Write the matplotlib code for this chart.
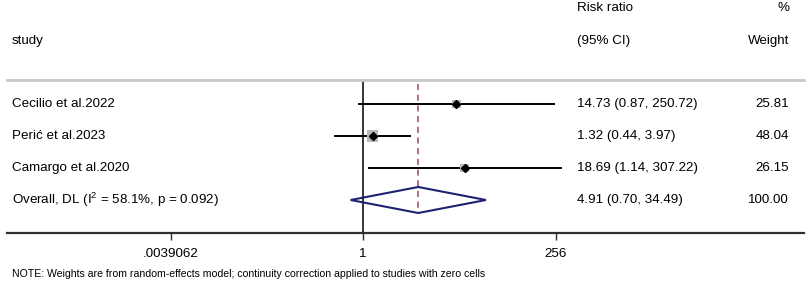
import numpy as np
import matplotlib
matplotlib.use("Agg")
import matplotlib.pyplot as plt
from matplotlib.patches import Polygon

plt.rcParams['font.family'] = ['Liberation Sans', 'DejaVu Sans']
plt.rcParams['mathtext.fontset'] = 'custom'
plt.rcParams['mathtext.rm'] = 'Liberation Sans'
plt.rcParams['mathtext.it'] = 'Liberation Sans'

# data
studies = ["Cecilio et al.2022", "Perić et al.2023", "Camargo et al.2020"]
rr = [14.73, 1.32, 18.69]
ci_low = [0.87, 0.44, 1.14]
ci_high = [250.72, 3.97, 307.22]
weights = [25.81, 48.04, 26.15]

overall_label = "Overall, DL (I$^{2}$ = 58.1%, p = 0.092)"
overall_rr = 4.91
overall_low = 0.70
overall_high = 34.49
overall_weight = 100.00

tick_vals = [1 / 256, 1, 256]
tick_labels = [".0039062", "1", "256"]

W, H = 810, 286
fig = plt.figure(figsize=(W / 100, H / 100), dpi=100)


def fx(px):
    return px / W


def fy(py):
    return 1 - py / H


# axes spans the table body, between the top rule and the bottom axis line
top_px, bot_px, left_px, right_px = 80, 233, 7, 804
ax = fig.add_axes([fx(left_px), fy(bot_px), (right_px - left_px) / W, (bot_px - top_px) / H])
ax.set_xscale('log', base=2)
ppu = (556 - 171) / 16.0  # pixels per log2 unit
null_px = 363
ax.set_xlim(2 ** ((left_px - null_px) / ppu), 2 ** ((right_px - null_px) / ppu))

row_gap = 32.0
first_row = 104
ax.set_ylim((bot_px - first_row) / row_gap, (top_px - first_row) / row_gap)

for s in ['left', 'right']:
    ax.spines[s].set_visible(False)
ax.spines['top'].set_color('#c8c8c8')
ax.spines['top'].set_linewidth(2)
ax.spines['bottom'].set_color('#303030')
ax.spines['bottom'].set_linewidth(1.6)

ax.set_yticks([])
ax.set_xticks(tick_vals)
ax.set_xticklabels(tick_labels, fontsize=9.6)
ax.minorticks_off()
ax.tick_params(axis='x', length=5, width=1, color='#303030', pad=6)

# null line
ax.axvline(1, color='black', lw=1.1, zorder=1)

# overall estimate line
ax.plot([overall_rr, overall_rr], [(84 - first_row) / row_gap, 3 + 13 / row_gap],
        color='#a0485a', lw=1.1, ls=(0, (4, 3)), zorder=1)

rows = np.arange(len(studies))
ax.hlines(rows, ci_low, ci_high, color='black', lw=1.4, zorder=2)
ax.scatter(rr, rows, marker='s', s=np.array(weights) * 1.4, color='#b9b9b9', zorder=3, lw=0)
ax.plot(rr, rows, 'D', color='black', ms=3.6, zorder=4)

# overall diamond
yo = len(studies)
hh = 13 / row_gap
diamond = Polygon([[overall_low, yo], [overall_rr, yo - hh], [overall_high, yo], [overall_rr, yo + hh]],
                  closed=True, fill=False, edgecolor='#1c2470', lw=1.5, zorder=3)
ax.add_patch(diamond)

fs = 9.6
# headers
fig.text(fx(12), fy(41), "study", fontsize=fs, va='center', ha='left')
fig.text(fx(577), fy(8), "Risk ratio", fontsize=fs, va='center', ha='left')
fig.text(fx(577), fy(41), "(95% CI)", fontsize=fs, va='center', ha='left')
fig.text(fx(789), fy(8), "%", fontsize=fs, va='center', ha='right')
fig.text(fx(789), fy(41), "Weight", fontsize=fs, va='center', ha='right')

for i, name in enumerate(studies):
    y = first_row + row_gap * i
    fig.text(fx(12), fy(y), name, fontsize=fs, va='center', ha='left')
    fig.text(fx(577), fy(y), f"{rr[i]:.2f} ({ci_low[i]:.2f}, {ci_high[i]:.2f})",
             fontsize=fs, va='center', ha='left')
    fig.text(fx(789), fy(y), f"{weights[i]:.2f}", fontsize=fs, va='center', ha='right')

y = first_row + row_gap * len(studies)
fig.text(fx(12), fy(y), overall_label, fontsize=fs, va='center', ha='left')
fig.text(fx(577), fy(y), f"{overall_rr:.2f} ({overall_low:.2f}, {overall_high:.2f})",
         fontsize=fs, va='center', ha='left')
fig.text(fx(789), fy(y), f"{overall_weight:.2f}", fontsize=fs, va='center', ha='right')

fig.text(fx(12), fy(274), "NOTE: Weights are from random-effects model; continuity correction applied to studies with zero cells",
         fontsize=7.6, va='center', ha='left')

fig.savefig("out.png", dpi=100)
